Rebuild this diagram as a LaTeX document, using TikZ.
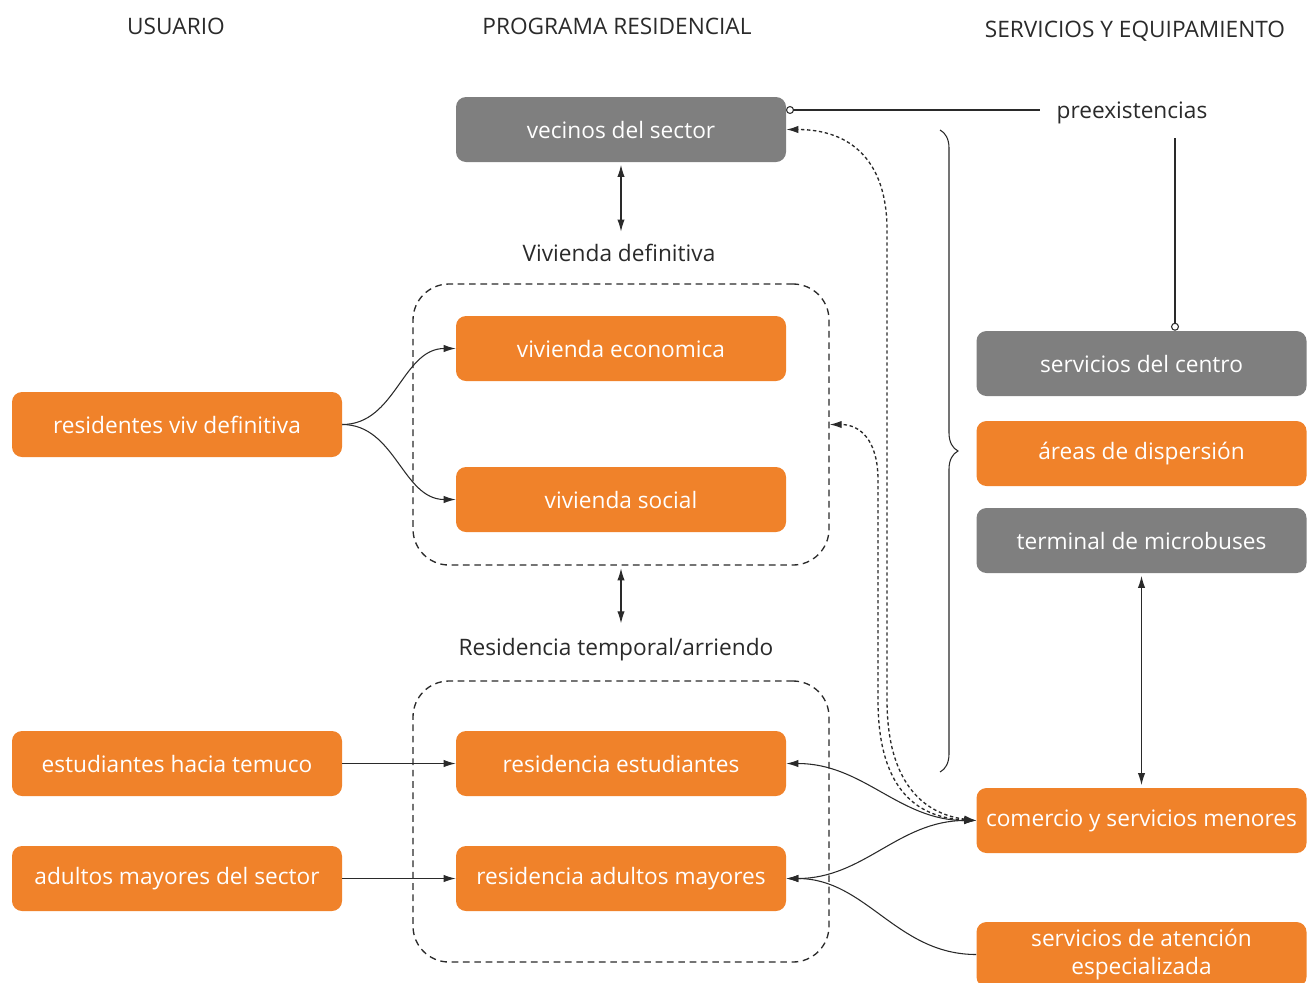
\documentclass[tikz,border=0pt]{standalone}
\usepackage{fontspec}
\setmainfont{Open Sans}
\usetikzlibrary{arrows.meta, positioning, decorations.pathreplacing}
\definecolor{naranja}{HTML}{F0822A}
\definecolor{gris}{HTML}{7F7F7F}
\definecolor{linea}{HTML}{2A2A2A}

\begin{document}
\begin{tikzpicture}[x=0.75pt,y=-0.75pt,
  caja/.style={rectangle,rounded corners=7.5pt,minimum width=247.5pt,minimum height=48.75pt,
    inner sep=2pt,text=white,font=\fontsize{17}{21}\selectfont,align=center},
  naranjo/.style={caja,fill=naranja},
  grisbox/.style={caja,fill=gris},
  titulo/.style={font=\fontsize{17}{20}\selectfont,text=linea},
  grupo/.style={draw=linea,line width=1pt,dash pattern=on 5pt off 3.5pt,rounded corners=27pt,
    minimum width=312pt,minimum height=210.75pt},
  flecha/.style={draw=linea,line width=0.8pt,-{Latex[length=9pt,width=5.5pt]}},
  doble/.style={flecha,{Latex[length=9pt,width=5.5pt]}-{Latex[length=9pt,width=5.5pt]}},
  punteado/.style={doble,line width=1pt,dash pattern=on 2.5pt off 2pt}]
  \useasboundingbox (0,0) rectangle (1316,982);

  % columnas
  \node[titulo] (tusu) at (176,26) {USUARIO};
  \node[titulo] (tprog) at (617,26) {PROGRAMA RESIDENCIAL};
  \node[titulo] (tserv) at (1135,31) {SERVICIOS Y EQUIPAMIENTO};

  % programa residencial
  \node[grisbox] (vecinos) at (621,129.5) {vecinos del sector};
  \node[titulo] (tviv) at (619,253) {Vivienda definitiva};
  \node[grupo] (grupo1) at (621,424.5) {};
  \node[naranjo] (vivecon) at (621,348.5) {vivienda economica};
  \node[naranjo] (vivsoc) at (621,499.5) {vivienda social};
  \node[titulo] (tres) at (616,650) {Residencia temporal/arriendo};
  \node[grupo] (grupo2) at (621,821.5) {};
  \node[naranjo] (resest) at (621,763.5) {residencia estudiantes};
  \node[naranjo] (resadul) at (621,878.5) {residencia adultos mayores};

  % usuarios
  \node[naranjo] (resviv) at (177,424.5) {residentes viv definitiva};
  \node[naranjo] (esttem) at (177,763.5) {estudiantes hacia temuco};
  \node[naranjo] (adulsec) at (177,878.5) {adultos mayores del sector};

  % servicios
  \node[titulo] (preex) at (1132,113) {preexistencias};
  \node[grisbox] (centro) at (1141.5,363.5) {servicios del centro};
  \node[naranjo] (areas) at (1141.5,453.5) {áreas de dispersión};
  \node[grisbox] (terminal) at (1141.5,540.5) {terminal de microbuses};
  \node[naranjo] (comercio) at (1141.5,820.5) {comercio y servicios menores};
  \node[naranjo] (atencion) at (1141.5,954.5) {servicios de atención\\especializada};

  \coordinate (pxa) at (786,110);
  \coordinate (pxb) at (1175,138);

  \draw[doble,shorten <=2pt,shorten >=6pt] (vecinos.south) -- (vecinos.south |- tviv.north);
  \draw[doble,shorten <=2pt,shorten >=8pt] (grupo1.south) -- (grupo1.south |- tres.north);
  \draw[doble,shorten <=2pt,shorten >=2pt] (terminal) -- (comercio);
  \draw[flecha] (resviv.east) to[out=0,in=180] (vivecon.west);
  \draw[flecha] (resviv.east) to[out=0,in=180] (vivsoc.west);
  \draw[flecha] (esttem) -- (resest);
  \draw[flecha] (adulsec) -- (resadul);
  \draw[doble] (comercio.west) to[out=180,in=0] (resest.east);
  \draw[doble] (comercio.west) to[out=180,in=0] (resadul.east);
  \draw[flecha] (atencion.west) to[out=180,in=0] (resadul.east);
  \draw[punteado] (comercio.west) .. controls (930,815) and (887,790) .. (887,700)
    -- (887,230) .. controls (887,160) and (850,129.5) .. (vecinos.east);
  \draw[punteado] (comercio.west) .. controls (922,818) and (878,795) .. (878,700)
    -- (878,480) .. controls (878,440) and (860,424.5) .. (grupo1.east);
  \draw[draw=linea,line width=0.8pt,{Circle[open,length=6pt]}-] (pxa) -- ([xshift=-9pt]pxa -| preex.west);
  \draw[draw=linea,line width=0.8pt,-{Circle[open,length=6pt]}] (pxb) -- (pxb |- centro.north);
  \draw[draw=linea,line width=0.8pt,decorate,decoration={brace,amplitude=13.5pt}] (940,130) -- (940,772);
\end{tikzpicture}
\end{document}
